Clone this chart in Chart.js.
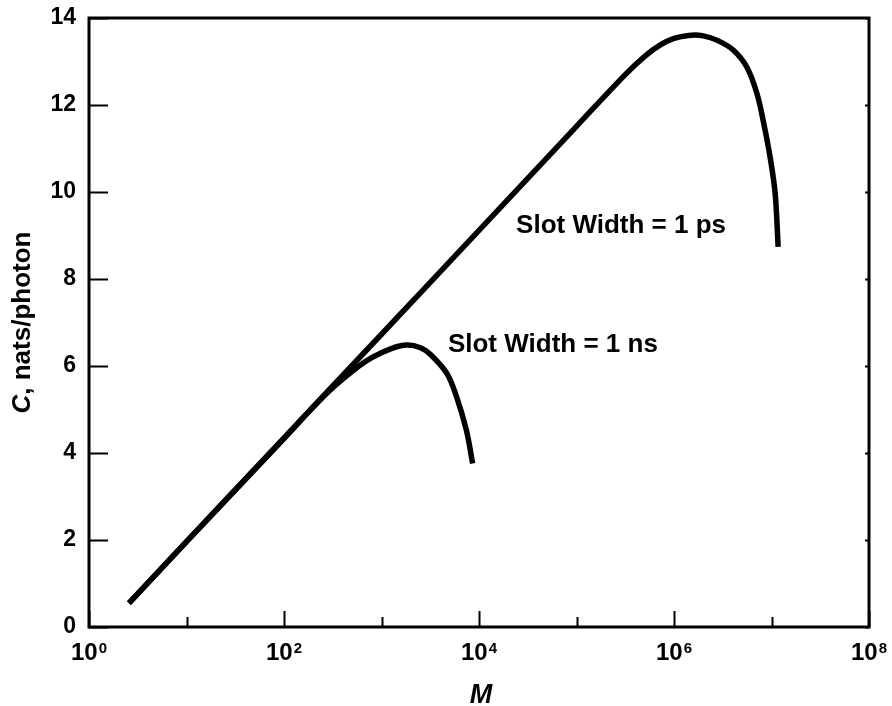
<!DOCTYPE html>
<html>
<head>
<meta charset="utf-8">
<style>
    html, body { margin: 0; padding: 0; background: #fff; }
    #wrap { width: 892px; height: 706px; position: relative; }
</style>
</head>
<body>
<div id="wrap"><canvas id="capChart"></canvas></div>
<script src="https://cdn.jsdelivr.net/npm/chart.js@4"></script>
<script>
    // capacity C (nats/photon) vs M
    const psM = [2.57, 10, 100, 1000, 1e4, 1e5, 3.16e5, 5.01e5, 7.24e5, 1e6, 1.41e6, 2e6, 2.82e6, 4.07e6, 5.56e6, 7.08e6, 8.32e6, 9.66e6, 1.09e7, 1.17e7];
    const psC = [0.55, 1.96, 4.35, 6.73, 9.12, 11.51, 12.7, 13.12, 13.38, 13.53, 13.6, 13.59, 13.48, 13.26, 12.88, 12.27, 11.58, 10.81, 9.97, 8.74];

    const nsM = [2.57, 10, 100, 200, 316, 501, 794, 1260, 1820, 2510, 3160, 4680, 5890, 7410, 8610];
    const nsC = [0.55, 1.96, 4.33, 5.06, 5.5, 5.88, 6.19, 6.4, 6.48, 6.42, 6.27, 5.83, 5.29, 4.53, 3.76];

    const xExp = [0, 1, 2, 3, 4, 5, 6, 7, 8];     // decade ticks, labels on even ones
    const yTicks = [0, 2, 4, 6, 8, 10, 12, 14];

    const noteText = ['Slot Width = 1 ps', 'Slot Width = 1 ns'];
    const noteM = [2.4e4, 4.8e3];
    const noteC = [9.06, 6.32];

    const FONT = '"Liberation Sans", Arial, Helvetica, sans-serif';

    const toPts = (xs, ys) => xs.map((m, i) => ({x: m, y: ys[i]}));

    const framePlugin = {
        id: 'frame',
        afterDraw(chart) {
            const {ctx, chartArea: a, scales: {x, y}} = chart;
            ctx.save();
            ctx.strokeStyle = '#000';
            ctx.fillStyle = '#000';
            ctx.lineWidth = 3;
            ctx.strokeRect(a.left, a.top, a.right - a.left, a.bottom - a.top);

            // inward tick marks
            ctx.lineWidth = 2;
            ctx.beginPath();
            xExp.forEach(k => {
                const px = Math.round(x.getPixelForValue(Math.pow(10, k))) + 0.5;
                const len = k % 2 === 0 ? 16 : 10;
                ctx.moveTo(px, a.bottom);
                ctx.lineTo(px, a.bottom - len);
            });
            yTicks.forEach(v => {
                const py = Math.round(y.getPixelForValue(v)) + 0.5;
                ctx.moveTo(a.left, py);
                ctx.lineTo(a.left + 19, py);
                ctx.moveTo(a.right, py);
                ctx.lineTo(a.right - 4, py);
            });
            ctx.stroke();

            // x tick labels 10^k
            ctx.textBaseline = 'alphabetic';
            ctx.textAlign = 'left';
            xExp.filter(k => k % 2 === 0).forEach(k => {
                const px = x.getPixelForValue(Math.pow(10, k));
                ctx.font = 'bold 24px ' + FONT;
                const w1 = ctx.measureText('10').width;
                ctx.font = 'bold 15px ' + FONT;
                const w2 = ctx.measureText(String(k)).width;
                const x0 = px - (w1 + w2 + 1) / 2;
                ctx.font = 'bold 24px ' + FONT;
                ctx.fillText('10', x0, 660);
                ctx.font = 'bold 15px ' + FONT;
                ctx.fillText(String(k), x0 + w1 + 1, 653);
            });

            // curve labels
            ctx.font = 'bold 26px ' + FONT;
            noteText.forEach((t, i) => {
                ctx.fillText(t, x.getPixelForValue(noteM[i]), y.getPixelForValue(noteC[i]));
            });

            // x axis title
            ctx.font = 'italic bold 27px ' + FONT;
            ctx.textAlign = 'center';
            ctx.fillText('M', (a.left + a.right) / 2 + 2, 703);

            // y axis title
            ctx.translate(30, (a.top + a.bottom) / 2);
            ctx.rotate(-Math.PI / 2);
            ctx.textAlign = 'left';
            ctx.font = 'italic bold 26px ' + FONT;
            const wc = ctx.measureText('C').width;
            ctx.font = 'bold 26px ' + FONT;
            const rest = ', nats/photon';
            const wr = ctx.measureText(rest).width;
            const sx = -(wc + wr) / 2;
            ctx.font = 'italic bold 26px ' + FONT;
            ctx.fillText('C', sx, 0);
            ctx.font = 'bold 26px ' + FONT;
            ctx.fillText(rest, sx + wc, 0);
            ctx.restore();
        }
    };

    new Chart(document.getElementById('capChart'), {
        type: 'scatter',
        data: {
            datasets: [
                {label: '1 ps', data: toPts(psM, psC)},
                {label: '1 ns', data: toPts(nsM, nsC)}
            ]
        },
        options: {
            responsive: true,
            maintainAspectRatio: false,
            animation: false,
            layout: {padding: {left: 0, top: 18, right: 23, bottom: 0}},
            elements: {
                point: {radius: 0, hoverRadius: 0},
                line: {borderColor: '#000', borderWidth: 5.5, tension: 0.35, fill: false}
            },
            datasets: {scatter: {showLine: true}},
            plugins: {legend: {display: false}, tooltip: {enabled: false}},
            scales: {
                x: {
                    type: 'logarithmic',
                    min: 1,
                    max: 1e8,
                    grid: {display: false},
                    border: {display: false},
                    ticks: {display: false},
                    afterFit: s => { s.height = 79; s.paddingLeft = 0; s.paddingRight = 0; }
                },
                y: {
                    min: 0,
                    max: 14,
                    grid: {display: false, drawTicks: false},
                    border: {display: false},
                    afterBuildTicks: s => { s.ticks = yTicks.map(v => ({value: v})); },
                    ticks: {
                        color: '#000',
                        padding: 13,
                        font: {family: FONT, size: 23, weight: 'bold'}
                    },
                    afterFit: s => { s.width = 89; s.paddingTop = 0; s.paddingBottom = 0; }
                }
            }
        },
        plugins: [framePlugin]
    });
</script>
</body>
</html>
